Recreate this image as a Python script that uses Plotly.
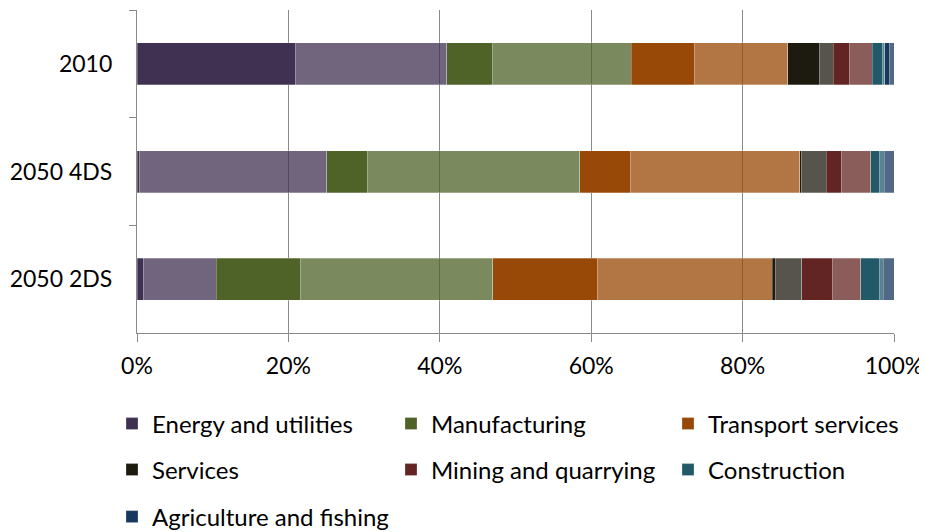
import plotly.graph_objects as go

categories = ["2010", "2050 4DS", "2050 2DS"]

sectors = ["Energy and utilities", "Manufacturing", "Transport services",
           "Services", "Mining and quarrying", "Construction",
           "Agriculture and fishing"]
colors = ["#403152", "#4F6228", "#984807", "#1D1B10", "#632523", "#215968", "#17375E"]

# dark (solid) and light (transparent) share of each sector, per scenario (%)
energy_dark = [20.93, 0.35, 0.89]
energy_light = [20.00, 24.70, 9.56]
manufacturing_dark = [6.04, 5.42, 11.19]
manufacturing_light = [18.32, 27.98, 25.37]
transport_dark = [8.42, 6.78, 13.88]
transport_light = [12.25, 22.33, 22.99]
services_dark = [4.27, 0.26, 0.40]
services_light = [1.76, 3.21, 3.52]
mining_dark = [2.21, 2.07, 4.00]
mining_light = [2.95, 3.79, 3.79]
construction_dark = [1.32, 1.15, 2.42]
construction_light = [0.36, 0.66, 0.57]
agriculture_dark = [0.66, 0.00, 0.00]
agriculture_light = [0.53, 1.28, 1.41]

dark_values = [energy_dark, manufacturing_dark, transport_dark, services_dark,
               mining_dark, construction_dark, agriculture_dark]
light_values = [energy_light, manufacturing_light, transport_light, services_light,
                mining_light, construction_light, agriculture_light]


def rgba(hex_color, a):
    h = hex_color.lstrip("#")
    r, g, b = int(h[0:2], 16), int(h[2:4], 16), int(h[4:6], 16)
    return f"rgba({r},{g},{b},{a})"


# the page body adds an 8px offset, so the figure is 8px smaller than the window
OFF = 8
W, H = 927 - OFF, 532 - OFF
ML, MR, MT, MB = 137 - OFF, 33, 10 - OFF, 199
PW, PH = W - ML - MR, H - MT - MB

legend_ids = ["legend"] + [f"legend{i}" for i in range(2, 8)]

fig = go.Figure()
for i, (name, col, dv, lv) in enumerate(zip(sectors, colors, dark_values, light_values)):
    lg = legend_ids[i]
    fig.add_trace(go.Bar(
        y=categories, x=dv, orientation="h", name=name,
        marker=dict(color=col, line=dict(width=0.6, color="rgba(255,255,255,0.45)")),
        legend=lg, showlegend=True))
    fig.add_trace(go.Bar(
        y=categories, x=lv, orientation="h", name=name + " ",
        marker=dict(color=rgba(col, 0.75), line=dict(width=0.6, color="rgba(255,255,255,0.45)")),
        legend=lg, showlegend=False))

axis_grey = "#8a8a8a"
font_family = "Lato"

# legend slot positions (page pixels): columns (legend left) and rows (centre)
col_px = [112, 391, 668]
row_px = [424, 470, 517]
legends = {}
for i, lg in enumerate(legend_ids):
    cx = col_px[i % 3] - OFF
    ry = row_px[i // 3] - OFF
    legends[lg] = dict(
        orientation="h", xanchor="left", yanchor="middle",
        x=(cx - ML) / PW, y=(H - MB - ry) / PH,
        bgcolor="rgba(0,0,0,0)",
        font=dict(family=font_family, size=24, color="black"))

fig.update_layout(
    width=W, height=H,
    margin=dict(l=ML, r=MR, t=MT, b=MB, autoexpand=False),
    barmode="stack", barnorm="percent", bargap=0.61,
    plot_bgcolor="white", paper_bgcolor="white",
    font=dict(family=font_family, size=23, color="black"),
    xaxis=dict(range=[0, 100], dtick=20, ticksuffix="%",
               showgrid=True, gridcolor=axis_grey, gridwidth=1.3,
               showline=True, linecolor=axis_grey, linewidth=1.3,
               ticks="outside", ticklen=8, tickcolor=axis_grey, tickwidth=1.3,
               zeroline=False, tickfont=dict(size=23), ticklabelstandoff=4),
    yaxis=dict(autorange="reversed", showgrid=False,
               showline=True, linecolor=axis_grey, linewidth=1.3,
               ticks="outside", tickson="boundaries", ticklen=7,
               tickcolor=axis_grey, tickwidth=1.3, tickfont=dict(size=23),
               ticklabelstandoff=19),
    **legends,
)

fig.write_html("out.html")
